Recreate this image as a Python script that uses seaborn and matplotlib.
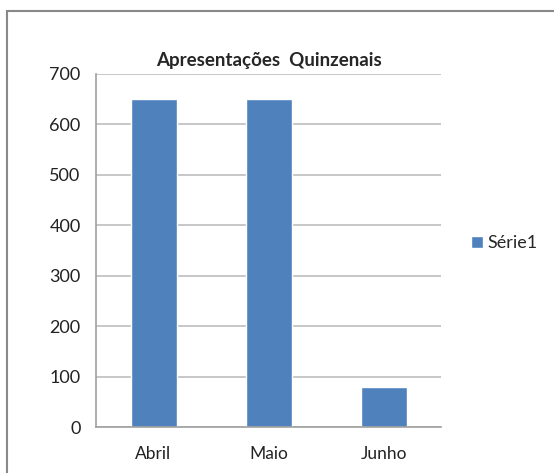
import matplotlib.pyplot as plt
from matplotlib.patches import Rectangle
import seaborn as sns
import pandas as pd

# dados
meses = ['Abril', 'Maio', 'Junho']
valores = [650, 650, 80]
serie = 'Série1'

df = pd.DataFrame({'mes': meses, 'valor': valores, 'serie': serie})

sns.set_style('white')
plt.rcParams['font.family'] = ['Lato', 'DejaVu Sans']

fig = plt.figure(figsize=(5.54, 4.73), dpi=100)
ax = fig.add_axes([96 / 554, 1 - 427 / 473, 345 / 554, 353 / 473])

sns.barplot(data=df, x='mes', y='valor', hue='serie', palette=['#4F81BD'],
            width=0.4, ax=ax, saturation=1, legend=True)

ax.set_ylim(0, 700)
ax.set_xlim(-0.5, 2.5)
ax.set_yticks(range(0, 701, 100))
ax.yaxis.grid(True, color='#BEBEBE', linewidth=1.2)
ax.set_axisbelow(True)
ax.set_xlabel('')
ax.set_ylabel('')
for s in ['top', 'right']:
    ax.spines[s].set_visible(False)
for s in ['left', 'bottom']:
    ax.spines[s].set_color('#A0A0A0')
    ax.spines[s].set_linewidth(1.2)

ax.set_xticks([-0.5, 0.5, 1.5, 2.5], minor=True)
ax.tick_params(axis='x', which='major', length=0, labelsize=12.5, colors='#222222', pad=14)
ax.tick_params(axis='x', which='minor', length=5, width=1.2, color='#A0A0A0', direction='out')
ax.tick_params(axis='y', length=5, width=1.2, color='#A0A0A0', direction='out',
               labelsize=13, labelcolor='#222222', pad=6)

ax.set_title('Apresentações  Quinzenais', fontsize=13.5, fontweight='bold', pad=6)

leg = ax.legend(loc='center left', bbox_to_anchor=(1.04, 0.52), frameon=False,
                handlelength=0.68, handleheight=0.68, handletextpad=0.2, fontsize=13)

fig.patches.append(Rectangle((7 / 554, -0.1), 1.2, 1 - 11 / 473 + 0.1,
                             transform=fig.transFigure, fill=False,
                             edgecolor='#888888', linewidth=1.5))

fig.savefig('out.png', dpi=100)
